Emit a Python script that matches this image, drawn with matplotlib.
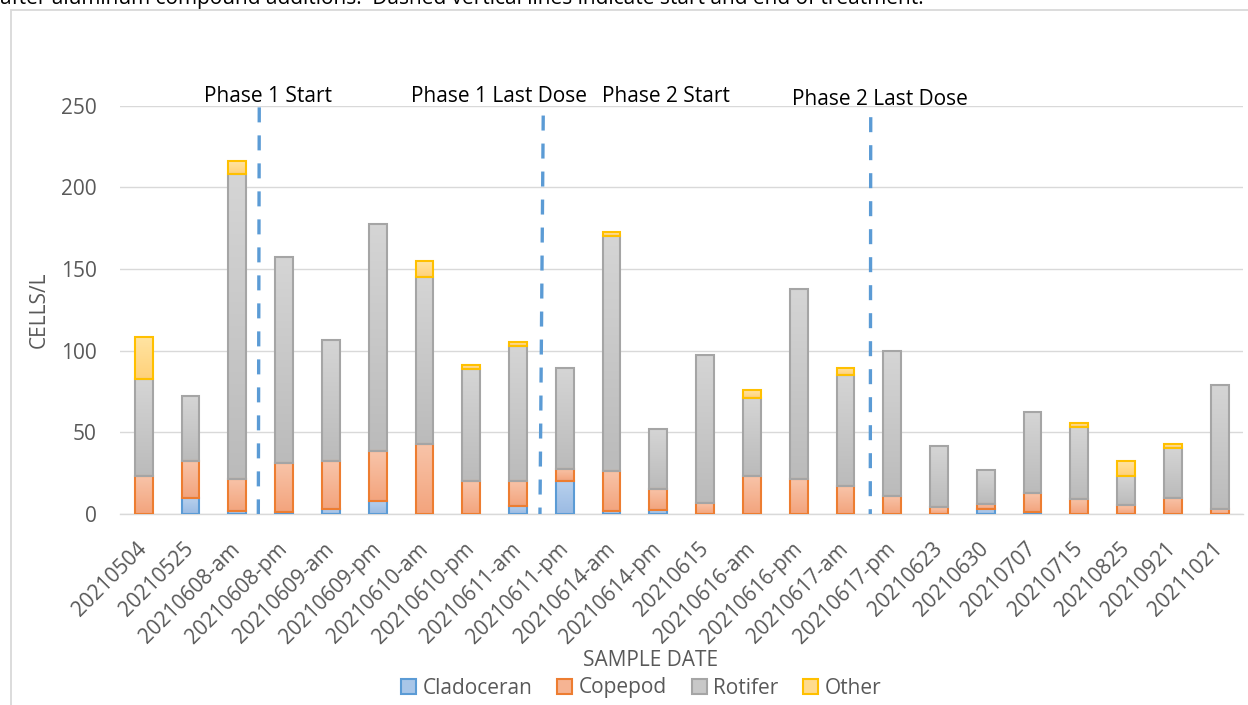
import numpy as np
import matplotlib.pyplot as plt
from matplotlib.colors import LinearSegmentedColormap
from matplotlib.patches import Patch, Rectangle

plt.rcParams['font.family'] = ['Open Sans', 'DejaVu Sans']

# zooplankton counts per sample (cells/L)
dates = ['20210504', '20210525', '20210608-am', '20210608-pm', '20210609-am',
         '20210609-pm', '20210610-am', '20210610-pm', '20210611-am', '20210611-pm',
         '20210614-am', '20210614-pm', '20210615', '20210616-am', '20210616-pm',
         '20210617-am', '20210617-pm', '20210623', '20210630', '20210707',
         '20210715', '20210825', '20210921', '20211021']
cladoceran = [0, 9.6, 1.8, 1, 3, 8.2, 0, 0, 5, 20, 1.6, 2.4,
              0, 0, 0, 0, 0, 0, 3, 1, 0, 0, 0, 0]
copepod = [23.4, 23, 19.6, 30.2, 29.2, 30.3, 43, 20, 15.4, 7.5, 24.9, 12.9,
           6.7, 23.4, 21.4, 16.9, 11.2, 4.1, 3.1, 11.6, 9.2, 5.5, 9.8, 3]
rotifer = [59.1, 39.7, 187, 126.3, 74.3, 139, 102, 68.6, 82.5, 61.7, 144, 36.7,
           90.9, 47.9, 116.1, 68.1, 88.6, 37.7, 21, 49.6, 43.8, 17.9, 30.9, 76]
other = [26.1, 0, 7.6, 0, 0, 0, 9.7, 2.9, 2.6, 0, 2.3, 0,
         0, 4.5, 0, 4.4, 0, 0, 0, 0, 2.6, 9.2, 2.1, 0]

# treatment markers: x at bottom / top of each dashed line, and top value
phase_labels = ['Phase 1 Start', 'Phase 1 Last Dose', 'Phase 2 Start', 'Phase 2 Last Dose']
marker_x_bottom = [2.45, 8.47, 15.53]
marker_x_top = [2.47, 8.54, 15.54]
marker_top = [249, 244, 243]

GRAY = '#595959'
GRID = '#d9d9d9'

fig = plt.figure(figsize=(12.48, 7.05), dpi=100)
ax = fig.add_axes([0.0964, 0.2709, 0.8997, 0.5791])

# outer chart frame and the caption line cut off above it
fig.patches.append(Rectangle((11 / 1248, -0.1), 2, 1.1 - 10 / 705, transform=fig.transFigure,
                             fill=False, edgecolor=GRID, lw=1.3))
fig.text(0.0, 1 - 4 / 705,
         'after aluminum compound additions.  Dashed vertical lines indicate start and end of treatment.',
         fontsize=15, color='black', va='baseline', ha='left')

series = [
    ('Cladoceran', cladoceran, '#b7d0ed', '#9bbbe3', '#5b9bd5'),
    ('Copepod', copepod, '#f8c4a9', '#f3a47d', '#ed7d31'),
    ('Rotifer', rotifer, '#d5d5d5', '#bbbbbb', '#a5a5a5'),
    ('Other', other, '#ffe4a3', '#ffd179', '#ffc000'),
]

x = np.arange(len(dates))
width = 0.38
grad = np.linspace(0, 1, 64).reshape(-1, 1)
bottom = np.zeros(len(dates))
handles = []
for name, vals, top_c, bot_c, edge in series:
    vals = np.asarray(vals, dtype=float)
    cmap = LinearSegmentedColormap.from_list(name, [bot_c, top_c])
    keep = vals > 0
    bars = ax.bar(x[keep], vals[keep], width, bottom=bottom[keep], facecolor='none',
                  edgecolor=edge, lw=1.5, zorder=3)
    for rect in bars:
        x0, y0 = rect.get_x(), rect.get_y()
        ax.imshow(grad, extent=(x0, x0 + rect.get_width(), y0, y0 + rect.get_height()),
                  origin='lower', cmap=cmap, aspect='auto', interpolation='bilinear', zorder=2)
    bottom += vals
    handles.append(Patch(facecolor=cmap(0.5), edgecolor=edge, lw=1.5, label=name))

for xb, xt, yt in zip(marker_x_bottom, marker_x_top, marker_top):
    ax.plot([xt, xb], [yt, 0], color='#5b9bd5', lw=2.4, ls=(0, (4.5, 3.9)), zorder=4)

label_x = [2.66, 7.60, 11.17, 15.74]
label_y = [252.3, 252.0, 252.0, 250.3]
for txt, lx, ly in zip(phase_labels, label_x, label_y):
    ax.text(lx, ly, txt, ha='center', va='baseline', fontsize=15, color='black', clip_on=False)

ax.set_xlim(-0.5, len(dates) - 0.5)
ax.set_ylim(0, 250)
ax.set_yticks(range(0, 251, 50))
ax.set_xticks(x)
ax.set_xticklabels(dates, rotation=45, ha='right', va='center', rotation_mode='anchor')
ax.tick_params(axis='both', length=0, labelsize=15, labelcolor=GRAY)
ax.tick_params(axis='x', pad=23)
ax.tick_params(axis='y', pad=17)
ax.yaxis.grid(True, color=GRID, lw=1.0)
ax.set_axisbelow(True)
for side in ['top', 'right', 'left']:
    ax.spines[side].set_visible(False)
ax.spines['bottom'].set_color(GRID)
ax.spines['bottom'].set_linewidth(1.0)

fig.text(39.5 / 1248, 1 - 310 / 705, 'CELLS/L', rotation=90, ha='center', va='center',
         fontsize=15, color=GRAY)
fig.text(651 / 1248, 1 - 661 / 705, 'SAMPLE DATE', ha='center', va='center',
         fontsize=15, color=GRAY)

fig.legend(handles=handles, loc='center', bbox_to_anchor=(641 / 1248, 1 - 688 / 705),
           ncol=4, frameon=False, fontsize=15, labelcolor=GRAY, handlelength=0.72,
           handleheight=0.72, handletextpad=0.3, columnspacing=1.2, borderpad=0)

fig.savefig('out.png', dpi=100)
